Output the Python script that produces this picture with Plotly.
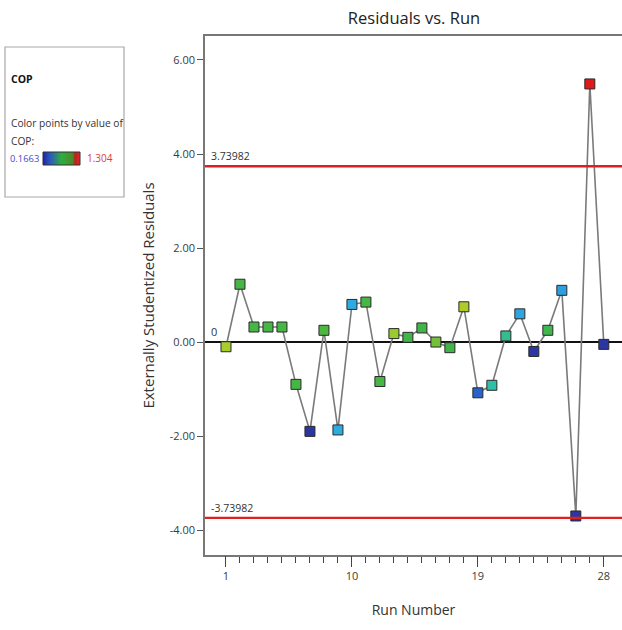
import numpy as np
import plotly.graph_objects as go

# Run order and externally studentized residuals
runs = list(range(1, 29))
residuals = [-0.10, 1.23, 0.32, 0.32, 0.32, -0.90, -1.90, 0.25, -1.87, 0.80,
             0.85, -0.84, 0.18, 0.10, 0.30, 0.00, -0.12, 0.75, -1.08, -0.92,
             0.13, 0.60, -0.20, 0.25, 1.10, -3.70, 5.49, -0.05]
# COP response used to colour each point
cop = [0.80, 0.65, 0.65, 0.65, 0.65, 0.65, 0.18, 0.66, 0.39, 0.39,
       0.65, 0.65, 0.78, 0.64, 0.64, 0.72, 0.64, 0.82, 0.27, 0.50,
       0.54, 0.38, 0.18, 0.63, 0.37, 0.18, 1.304, 0.18]
cop_min, cop_max = 0.1663, 1.304
limit = 3.73982

y_ticks = [-4, -2, 0, 2, 4, 6]
y_tick_text = ["-4.00", "-2.00", "0.00", "2.00", "4.00", "6.00"]
x_ticks = [1, 10, 19, 28]
x_range = [-0.5, 29.3]

W, H = 622, 630
PLOT_L, PLOT_R, PLOT_T, PLOT_B = 205, 622, 36, 555


def px(x):
    return x / W


def py(y):
    return (PLOT_B - y) / (PLOT_B - PLOT_T)


point_scale = [
    [0.00, "#2b2f9c"],
    [0.10, "#2b66cc"],
    [0.20, "#2eaee2"],
    [0.30, "#2fc0a4"],
    [0.42, "#42b545"],
    [0.56, "#a9cf2a"],
    [0.76, "#e09a20"],
    [1.00, "#e01a1a"],
]
key_scale = [
    [0.00, "#23239a"],
    [0.15, "#2a4fc8"],
    [0.50, "#2fae3e"],
    [0.80, "#4a8a2a"],
    [0.88, "#c02020"],
    [1.00, "#e02828"],
]

fig = go.Figure()

# connecting line through the runs
fig.add_trace(go.Scatter(
    x=runs, y=residuals, mode="lines",
    line=dict(color="#7a7a7a", width=1.6),
    hoverinfo="skip", showlegend=False,
))
# coloured square markers
fig.add_trace(go.Scatter(
    x=runs, y=residuals, mode="markers",
    marker=dict(symbol="square", size=10, color=cop, colorscale=point_scale,
                cmin=cop_min, cmax=cop_max, showscale=False,
                line=dict(color="#2a2a2a", width=1)),
    showlegend=False,
))
# transparent copy so the labelled run axis is drawn
fig.add_trace(go.Scatter(
    x=runs, y=residuals, mode="lines", xaxis="x3", yaxis="y",
    line=dict(color="rgba(0,0,0,0)", width=0),
    hoverinfo="skip", showlegend=False,
))

# gradient key in the side panel
key_z = [list(np.linspace(cop_min, cop_max, 60))]
fig.add_trace(go.Heatmap(
    z=key_z, colorscale=key_scale, showscale=False,
    xaxis="x2", yaxis="y2", hoverinfo="skip",
))

# control limits
for v in (limit, -limit):
    fig.add_shape(type="line", xref="x domain", yref="y", x0=0, x1=1, y0=v, y1=v,
                  line=dict(color="#e02020", width=2.4))

fig.add_annotation(x=px(209), y=limit, xref="paper", yref="y", text="3.73982",
                   showarrow=False, xanchor="left", yanchor="bottom", yshift=1,
                   font=dict(size=10.5, color="#333333"))
fig.add_annotation(x=px(209), y=-limit, xref="paper", yref="y", text="-3.73982",
                   showarrow=False, xanchor="left", yanchor="bottom", yshift=1,
                   font=dict(size=10.5, color="#333333"))
fig.add_annotation(x=px(209), y=0, xref="paper", yref="y", text="0",
                   showarrow=False, xanchor="left", yanchor="bottom", yshift=1,
                   font=dict(size=11, color="#333333"))

# side panel text
panel_font = "Open Sans, Noto Sans, sans-serif"
fig.add_shape(type="rect", xref="paper", yref="paper",
              x0=px(5), x1=px(124), y0=py(197), y1=py(47),
              line=dict(color="#a8a8a8", width=1.2), fillcolor="rgba(0,0,0,0)")
fig.add_shape(type="rect", xref="paper", yref="paper",
              x0=px(43), x1=px(80), y0=py(165), y1=py(152),
              line=dict(color="#333333", width=1), fillcolor="rgba(0,0,0,0)")
fig.add_annotation(x=px(9), y=py(79), xref="paper", yref="paper", text="<b>COP</b>",
                   showarrow=False, xanchor="left", yanchor="middle",
                   font=dict(size=10.5, color="#111111", family=panel_font))
fig.add_annotation(x=px(9), y=py(123), xref="paper", yref="paper",
                   text="Color points by value of",
                   showarrow=False, xanchor="left", yanchor="middle",
                   font=dict(size=10.2, color="#333333", family=panel_font))
fig.add_annotation(x=px(9), y=py(141), xref="paper", yref="paper", text="COP:",
                   showarrow=False, xanchor="left", yanchor="middle",
                   font=dict(size=10.2, color="#333333", family=panel_font))
fig.add_annotation(x=px(8), y=py(158), xref="paper", yref="paper", text=f"{cop_min}",
                   showarrow=False, xanchor="left", yanchor="middle",
                   font=dict(size=9.4, color="#4a4ac8", family=panel_font))
fig.add_annotation(x=px(85), y=py(158), xref="paper", yref="paper", text=f"{cop_max}",
                   showarrow=False, xanchor="left", yanchor="middle",
                   font=dict(size=10, color="#e03a3a", family=panel_font))

axis_font = dict(family=panel_font, size=11, color="#3a3a3a")

fig.update_layout(
    width=W, height=H,
    margin=dict(l=0, r=0, t=PLOT_T, b=H - PLOT_B),
    paper_bgcolor="white", plot_bgcolor="white",
    font=dict(family=panel_font, color="#333333"),
    title=dict(text="Residuals vs. Run", x=px(414), xref="paper", xanchor="center",
               y=1 - 18 / H, yref="container", yanchor="middle",
               font=dict(size=16.5, color="#222222", family=panel_font)),
    # run axis: a short tick at every run
    xaxis=dict(
        domain=[px(PLOT_L), 1], range=x_range,
        tickmode="array", tickvals=runs, showticklabels=False,
        ticks="outside", ticklen=6, tickcolor="#444444", tickwidth=1.2,
        showline=True, linecolor="#777777", linewidth=1.5, mirror=True,
        showgrid=False, zeroline=False,
    ),
    # labelled runs with longer ticks
    xaxis3=dict(
        domain=[px(PLOT_L), 1], range=x_range, overlaying="x", anchor="y",
        side="bottom",
        tickmode="array", tickvals=x_ticks,
        ticks="outside", ticklen=11, tickcolor="#444444", tickwidth=1.3,
        showline=False, showgrid=False, zeroline=False, tickfont=axis_font,
        title=dict(text="Run Number", font=dict(size=14, color="#333333"), standoff=22),
    ),
    yaxis=dict(
        range=[-4.53, 6.51],
        tickmode="array", tickvals=y_ticks, ticktext=y_tick_text,
        ticks="outside", ticklen=6, tickcolor="#555555", tickwidth=1.2,
        showline=True, linecolor="#777777", linewidth=1.5,
        showgrid=False, zeroline=True, zerolinecolor="#111111", zerolinewidth=2.2,
        tickfont=axis_font,
        title=dict(text="Externally Studentized Residuals",
                   font=dict(size=15, color="#333333"), standoff=11),
    ),
    xaxis2=dict(domain=[px(43), px(80)], anchor="y2", visible=False, fixedrange=True),
    yaxis2=dict(domain=[py(165), py(152)], anchor="x2", visible=False, fixedrange=True),
)

fig.write_html("out.html")
